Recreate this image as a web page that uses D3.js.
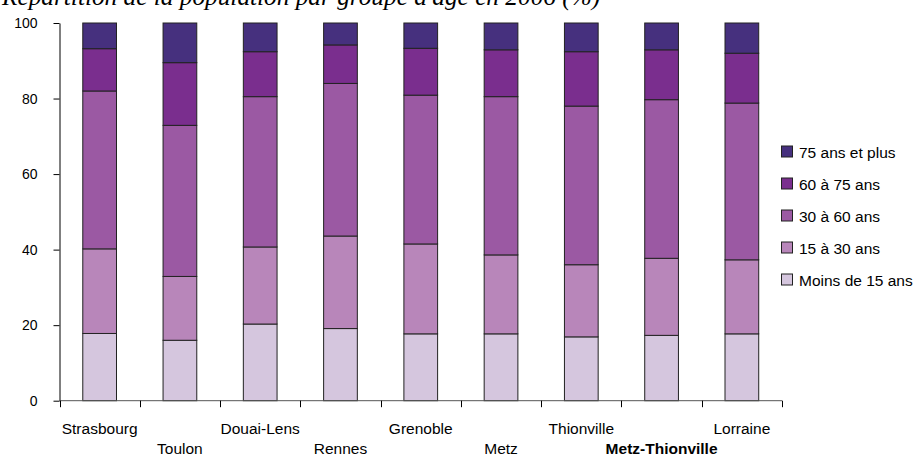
<!DOCTYPE html>
<html lang="fr">
<head>
<meta charset="utf-8">
<script src="https://cdn.jsdelivr.net/npm/d3@7"></script>
<style>
  html, body { margin: 0; padding: 0; background: #fff; }
  svg { display: block; }
  text { font-family: "Liberation Sans", Arial, sans-serif; fill: #000; }
</style>
</head>
<body>
<div id="chart"></div>
<script>
// Zones d'étude
const categories = ["Strasbourg", "Toulon", "Douai-Lens", "Rennes", "Grenoble",
                    "Metz", "Thionville", "Metz-Thionville", "Lorraine"];

// Groupes d'âge, du bas vers le haut de la pile
const groups = ["Moins de 15 ans", "15 à 30 ans", "30 à 60 ans", "60 à 75 ans", "75 ans et plus"];

// Part de chaque groupe d'âge (%), une valeur par zone
const moins15 = [17.8, 16.0, 20.3, 19.1, 17.7, 17.7, 16.9, 17.3, 17.7];
const de15a30 = [22.4, 16.9, 20.4, 24.5, 23.8, 20.9, 19.1, 20.4, 19.6];
const de30a60 = [41.8, 40.0, 39.8, 40.4, 39.4, 41.9, 42.0, 42.0, 41.5];
const de60a75 = [11.2, 16.6, 11.9, 10.2, 12.4, 12.4, 14.4, 13.2, 13.2];
const plus75  = [ 6.8, 10.5,  7.6,  5.8,  6.7,  7.1,  7.6,  7.1,  8.0];

const yTicks = [0, 20, 40, 60, 80, 100];
const colors = ["#d5c6de", "#b886ba", "#9b59a3", "#7a2e8e", "#46307e"];
const highlighted = "Metz-Thionville";

const W = 915, H = 455;
const svg = d3.select("#chart").append("svg").attr("width", W).attr("height", H);

// Titre (en partie hors du cadre, en haut)
svg.append("text")
  .attr("x", 2).attr("y", 5)
  .style("font-family", "'Liberation Serif', 'Times New Roman', serif")
  .style("font-style", "italic")
  .style("font-size", "25.3px")
  .text("Répartition de la population par groupe d'âge en 2006 (%)");

const plot = { left: 59.5, right: 782, top: 23, bottom: 400.7 };

const table = categories.map((c, i) => ({
  cat: c,
  [groups[0]]: moins15[i],
  [groups[1]]: de15a30[i],
  [groups[2]]: de30a60[i],
  [groups[3]]: de60a75[i],
  [groups[4]]: plus75[i]
}));
const stacked = d3.stack().keys(groups)(table);

const y = d3.scaleLinear().domain([0, 100]).range([plot.bottom, plot.top]);
const xAxisBand = d3.scaleBand().domain(categories).range([plot.left, plot.right]).padding(0);
const xBars = d3.scaleBand().domain(categories).range([plot.left, plot.right])
  .paddingInner(0.58).paddingOuter(0.29);
const color = d3.scaleOrdinal().domain(groups).range(colors);

// Barres empilées
svg.append("g").selectAll("g")
  .data(stacked)
  .join("g")
  .attr("fill", d => color(d.key))
  .selectAll("rect")
  .data(d => d)
  .join("rect")
  .attr("x", d => xBars(d.data.cat))
  .attr("width", xBars.bandwidth())
  .attr("y", d => y(d[1]))
  .attr("height", d => y(d[0]) - y(d[1]))
  .attr("stroke", "#222")
  .attr("stroke-width", 1);

// Axe des ordonnées
const yAxis = svg.append("g")
  .attr("transform", `translate(${plot.left},0)`)
  .call(d3.axisLeft(y).tickValues(yTicks).tickSize(6).tickPadding(16).tickSizeOuter(0));
yAxis.select(".domain").attr("stroke", "#000");
yAxis.selectAll(".tick line").attr("stroke", "#000");
yAxis.selectAll(".tick text")
  .style("font-family", "'Liberation Sans', Arial, sans-serif")
  .style("font-size", "14px")
  .attr("fill", "#000");

// Axe des abscisses : graduations entre les zones
const boundaries = categories.map(c => xAxisBand(c)).concat([plot.right]);
const xAxisG = svg.append("g");
xAxisG.append("line")
  .attr("x1", plot.left).attr("x2", plot.right)
  .attr("y1", plot.bottom).attr("y2", plot.bottom)
  .attr("stroke", "#555").attr("stroke-width", 1);
xAxisG.selectAll("line.tick")
  .data(boundaries)
  .join("line")
  .attr("class", "tick")
  .attr("x1", d => Math.round(d) + 0.5).attr("x2", d => Math.round(d) + 0.5)
  .attr("y1", plot.bottom).attr("y2", plot.bottom + 6.5)
  .attr("stroke", "#000").attr("stroke-width", 1);

// Libellés des zones, sur deux rangées alternées
xAxisG.selectAll("text")
  .data(categories)
  .join("text")
  .attr("x", d => xAxisBand(d) + xAxisBand.bandwidth() / 2)
  .attr("y", (d, i) => i % 2 === 0 ? 434 : 453.5)
  .attr("text-anchor", "middle")
  .style("font-size", "15.5px")
  .style("font-weight", d => d === highlighted ? "bold" : "normal")
  .text(d => d);

// Légende (ordre inverse de la pile)
const legend = svg.append("g");
const legendItems = groups.slice().reverse();
const li = legend.selectAll("g")
  .data(legendItems)
  .join("g")
  .attr("transform", (d, i) => `translate(781.5, ${146 + i * 32})`);
li.append("rect")
  .attr("width", 11).attr("height", 11)
  .attr("fill", d => color(d))
  .attr("stroke", "#222").attr("stroke-width", 1);
li.append("text")
  .attr("x", 17.5).attr("y", 11.5)
  .style("font-size", "15.5px")
  .text(d => d);
</script>
</body>
</html>
